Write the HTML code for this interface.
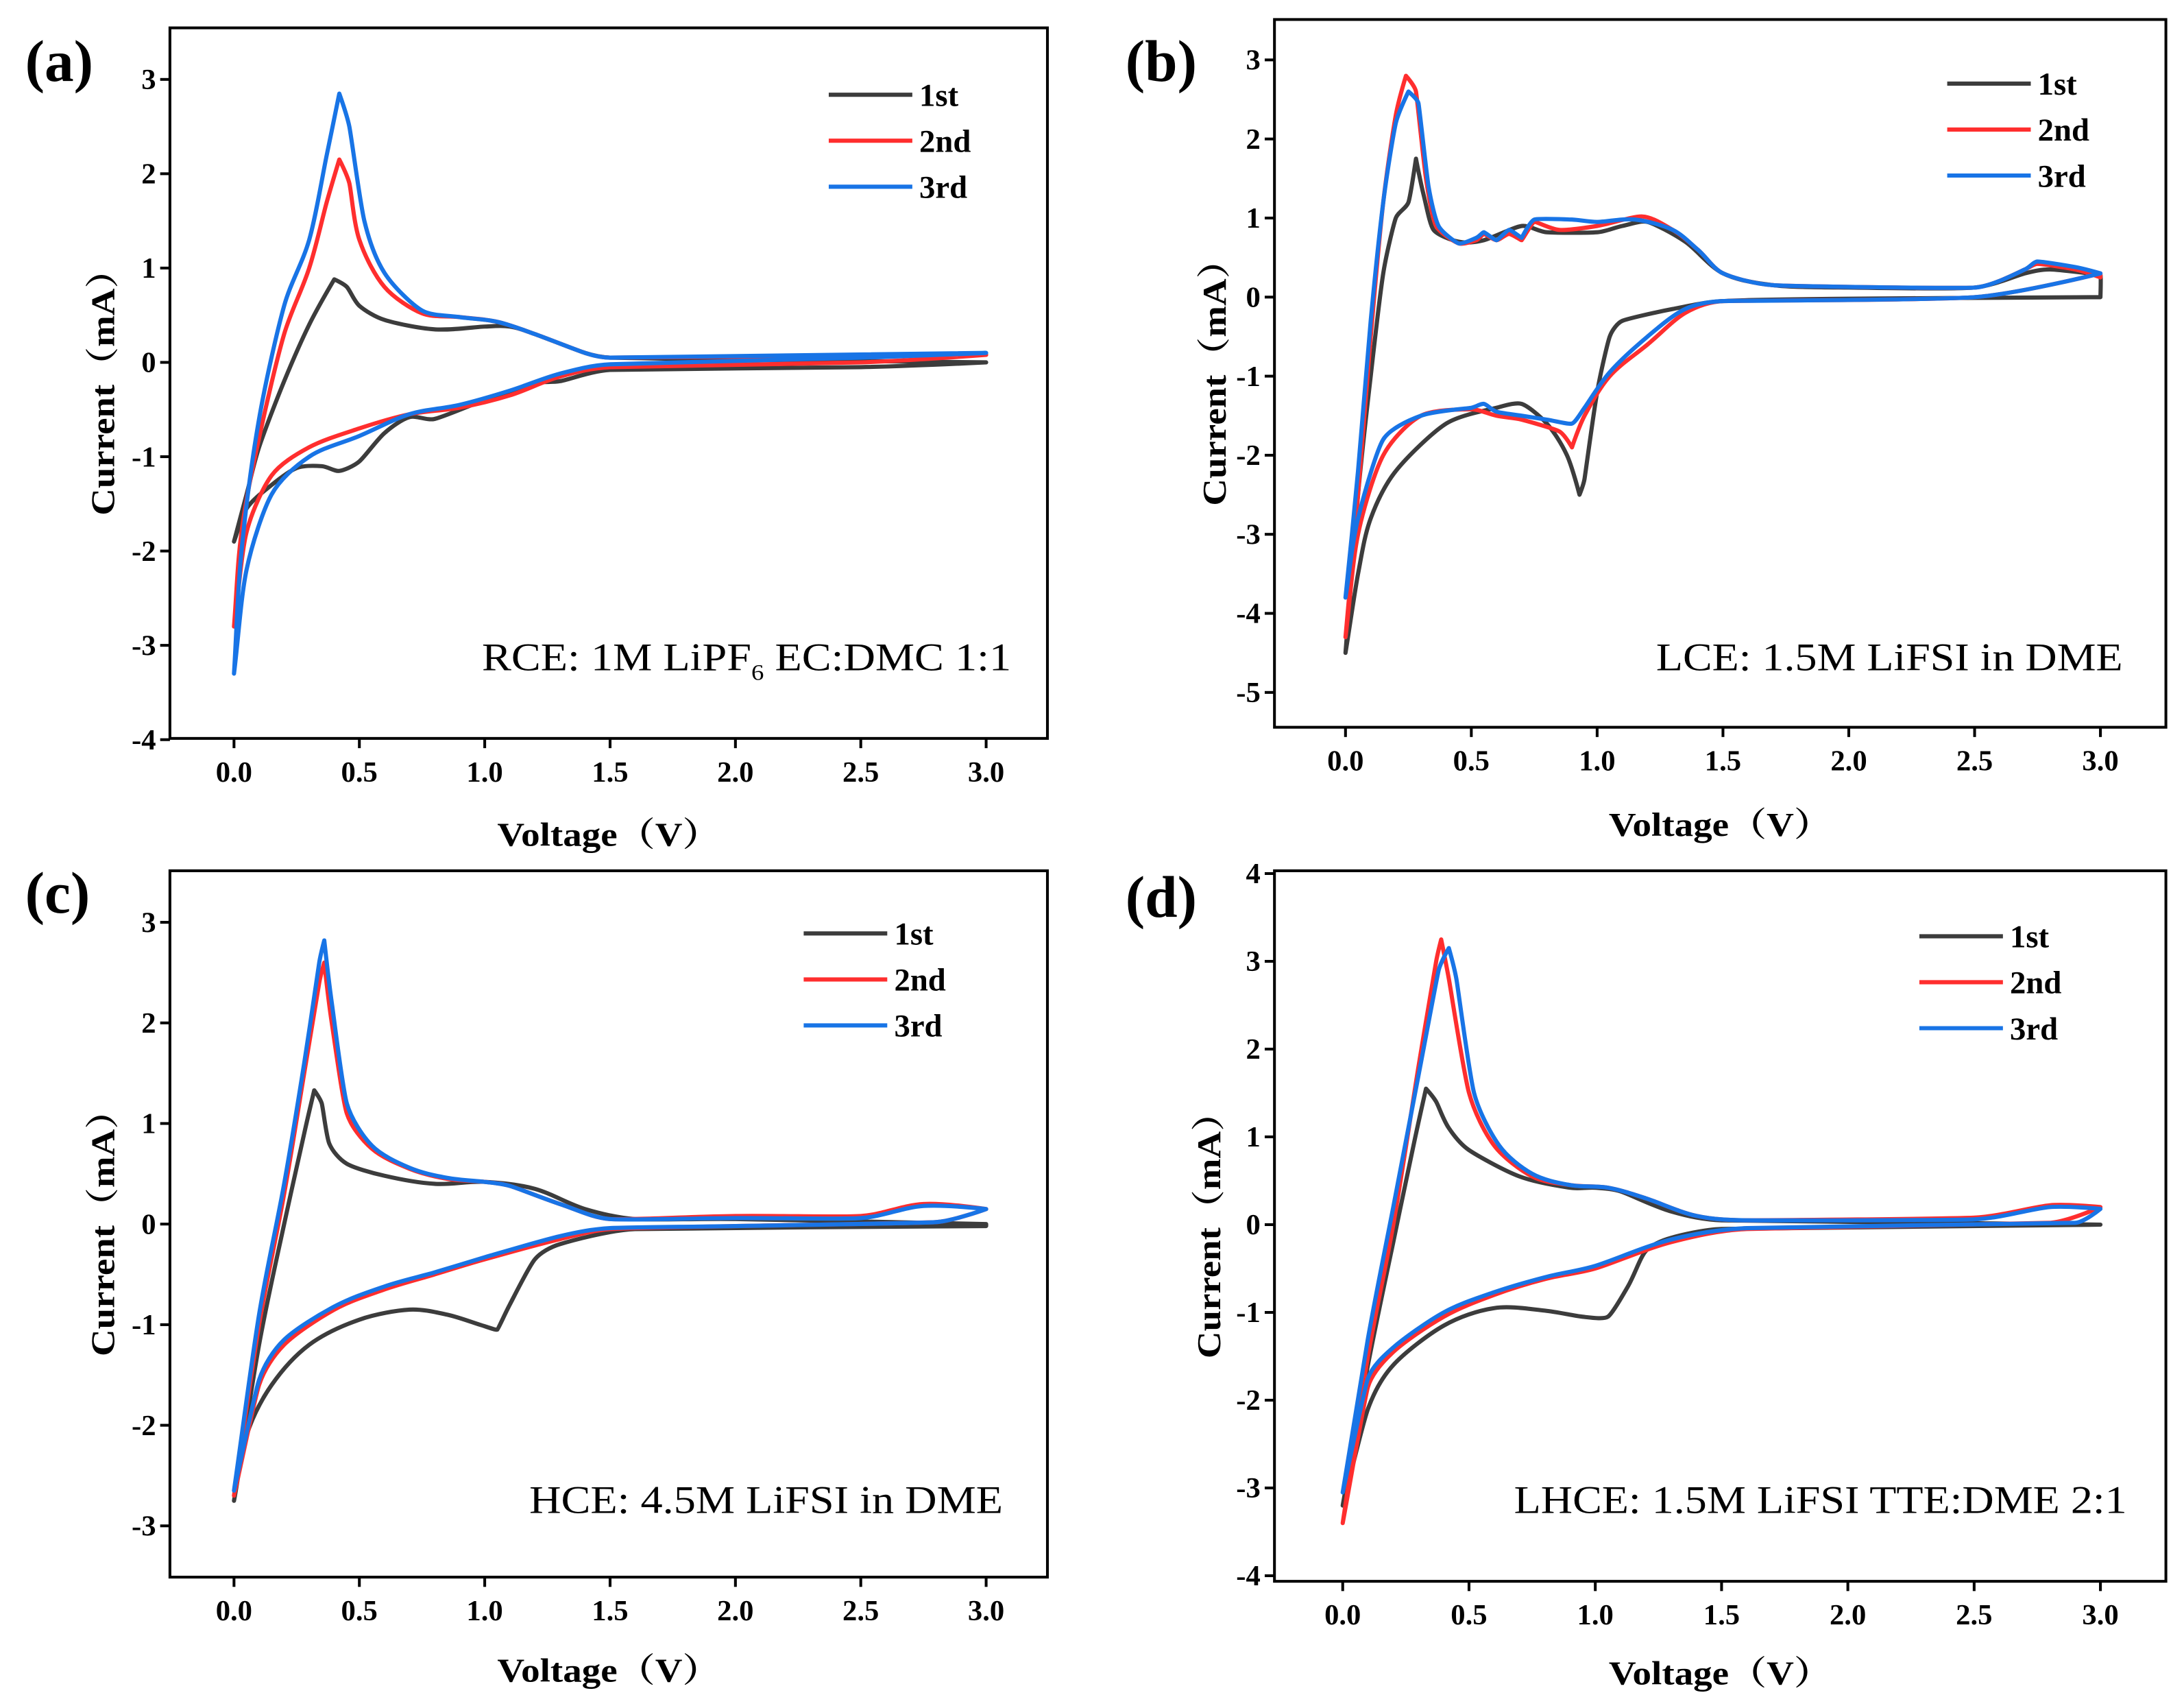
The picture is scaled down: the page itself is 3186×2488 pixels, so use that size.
<!DOCTYPE html>
<html><head><meta charset="utf-8">
<style>
html,body{margin:0;padding:0;background:#fff;}
svg{display:block;}
text{font-family:"Liberation Serif","Noto Serif CJK SC",serif;}
</style></head>
<body>
<svg id="fig" width="3186" height="2488" viewBox="0 0 1568 1224.5" preserveAspectRatio="none" xmlns="http://www.w3.org/2000/svg"></svg>
<script>
// ---- data ----
const xTicks = [0.0,0.5,1.0,1.5,2.0,2.5,3.0];
const cycleNames = ["1st","2nd","3rd"];
const yTicksA = [3,2,1,0,-1,-2,-3,-4];
const yTicksB = [3,2,1,0,-1,-2,-3,-4,-5];
const yTicksC = [3,2,1,0,-1,-2,-3];
const yTicksD = [4,3,2,1,0,-1,-2,-3,-4];

const a1 = [[0,-1.9],[0.05,-1.4],[0.1,-0.9],[0.2,-0.2],[0.3,0.4],[0.4,0.88],[0.45,0.8],[0.5,0.6],[0.6,0.45],[0.8,0.35],[1.0,0.38],[1.1,0.38],[1.2,0.3],[1.4,0.1],[1.5,0.05],[2.0,0.03],[3.0,0.0],[2.5,-0.05],[1.5,-0.08],[1.3,-0.2],[1.2,-0.22],[1.0,-0.4],[0.8,-0.6],[0.7,-0.58],[0.6,-0.75],[0.5,-1.05],[0.42,-1.15],[0.35,-1.1],[0.25,-1.12],[0.15,-1.3],[0.05,-1.55],[0,-1.9]];
const a2 = [[0,-2.8],[0.03,-1.8],[0.1,-0.8],[0.2,0.3],[0.3,1.0],[0.37,1.7],[0.42,2.15],[0.46,1.9],[0.5,1.3],[0.6,0.8],[0.75,0.52],[0.9,0.48],[1.05,0.43],[1.2,0.3],[1.4,0.1],[1.5,0.05],[3.0,0.08],[2.5,0.0],[1.5,-0.05],[1.3,-0.15],[1.1,-0.35],[0.9,-0.48],[0.7,-0.55],[0.5,-0.7],[0.3,-0.9],[0.15,-1.2],[0.05,-1.8],[0,-2.8]];
const a3 = [[0,-3.3],[0.03,-2.0],[0.1,-0.6],[0.2,0.6],[0.3,1.3],[0.37,2.2],[0.42,2.85],[0.46,2.5],[0.52,1.5],[0.6,0.95],[0.75,0.55],[0.9,0.48],[1.05,0.43],[1.2,0.3],[1.4,0.1],[1.5,0.05],[3.0,0.1],[2.5,0.05],[1.5,-0.02],[1.3,-0.12],[1.1,-0.3],[0.9,-0.45],[0.7,-0.55],[0.5,-0.78],[0.3,-1.0],[0.15,-1.4],[0.05,-2.2],[0,-3.3]];

const b1 = [[0,-4.5],[0.05,-2.5],[0.1,-1.0],[0.15,0.3],[0.2,1.0],[0.25,1.2],[0.28,1.75],[0.31,1.3],[0.35,0.85],[0.45,0.7],[0.55,0.72],[0.7,0.9],[0.8,0.82],[1.0,0.82],[1.1,0.9],[1.2,0.95],[1.35,0.7],[1.5,0.3],[1.7,0.15],[2.0,0.12],[2.5,0.12],[2.7,0.3],[2.8,0.35],[3.0,0.28],[3.0,0.0],[2.0,-0.02],[1.5,-0.05],[1.3,-0.15],[1.1,-0.3],[1.05,-0.5],[1.0,-1.2],[0.95,-2.3],[0.93,-2.5],[0.88,-2.0],[0.8,-1.6],[0.7,-1.35],[0.6,-1.4],[0.4,-1.6],[0.2,-2.2],[0.1,-2.8],[0.05,-3.5],[0,-4.5]];
const b2 = [[0,-4.3],[0.05,-2.5],[0.1,-0.5],[0.15,1.2],[0.2,2.3],[0.24,2.8],[0.28,2.6],[0.32,1.5],[0.36,0.9],[0.45,0.68],[0.52,0.72],[0.55,0.8],[0.6,0.72],[0.65,0.8],[0.7,0.72],[0.75,0.95],[0.85,0.85],[1.0,0.9],[1.18,1.02],[1.3,0.85],[1.4,0.6],[1.5,0.3],[1.7,0.15],[2.5,0.12],[2.7,0.35],[2.75,0.42],[2.9,0.35],[3.0,0.25],[3.0,0.3],[2.5,0.0],[1.5,-0.05],[1.35,-0.2],[1.2,-0.6],[1.05,-1.0],[0.95,-1.5],[0.9,-1.9],[0.85,-1.7],[0.7,-1.55],[0.6,-1.5],[0.5,-1.42],[0.3,-1.5],[0.15,-2.0],[0.05,-3.0],[0,-4.3]];
const b3 = [[0,-3.8],[0.05,-2.2],[0.1,-0.3],[0.15,1.2],[0.2,2.2],[0.25,2.6],[0.29,2.45],[0.33,1.4],[0.37,0.9],[0.45,0.68],[0.52,0.75],[0.55,0.82],[0.6,0.72],[0.65,0.85],[0.7,0.75],[0.75,0.98],[0.9,0.98],[1.0,0.95],[1.15,0.98],[1.3,0.85],[1.4,0.6],[1.5,0.3],[1.7,0.15],[2.5,0.12],[2.7,0.35],[2.75,0.45],[2.9,0.38],[3.0,0.3],[2.5,0.0],[1.5,-0.05],[1.35,-0.15],[1.2,-0.5],[1.05,-0.95],[0.95,-1.4],[0.9,-1.6],[0.8,-1.55],[0.7,-1.5],[0.6,-1.45],[0.55,-1.35],[0.5,-1.4],[0.3,-1.5],[0.15,-1.8],[0.05,-2.8],[0,-3.8]];

const c1 = [[0,-2.75],[0.1,-1.2],[0.2,0.0],[0.28,0.9],[0.32,1.33],[0.35,1.2],[0.38,0.8],[0.45,0.6],[0.6,0.48],[0.8,0.4],[1.0,0.42],[1.2,0.35],[1.4,0.15],[1.6,0.05],[2.0,0.05],[3.0,0.0],[3.0,-0.02],[1.6,-0.05],[1.3,-0.2],[1.2,-0.35],[1.1,-0.8],[1.05,-1.05],[0.98,-1.0],[0.85,-0.9],[0.7,-0.85],[0.5,-0.95],[0.3,-1.2],[0.15,-1.6],[0.05,-2.1],[0,-2.75]];
const c2 = [[0,-2.7],[0.1,-1.0],[0.2,0.3],[0.28,1.5],[0.34,2.4],[0.36,2.6],[0.39,2.0],[0.45,1.1],[0.55,0.75],[0.7,0.55],[0.85,0.45],[1.0,0.42],[1.1,0.38],[1.3,0.2],[1.5,0.05],[2.0,0.08],[2.5,0.08],[2.75,0.2],[3.0,0.15],[2.8,0.02],[2.0,-0.02],[1.5,-0.05],[1.3,-0.15],[1.0,-0.35],[0.8,-0.5],[0.6,-0.65],[0.4,-0.85],[0.2,-1.2],[0.1,-1.6],[0,-2.7]];
const c3 = [[0,-2.65],[0.1,-0.9],[0.2,0.4],[0.28,1.6],[0.34,2.6],[0.36,2.82],[0.39,2.2],[0.45,1.2],[0.55,0.78],[0.7,0.56],[0.85,0.46],[1.0,0.42],[1.1,0.38],[1.3,0.2],[1.5,0.05],[2.0,0.06],[2.5,0.06],[2.75,0.18],[3.0,0.15],[2.8,0.02],[2.0,-0.02],[1.5,-0.04],[1.3,-0.12],[1.0,-0.33],[0.8,-0.48],[0.6,-0.62],[0.4,-0.82],[0.2,-1.15],[0.1,-1.55],[0,-2.65]];

const d1 = [[0,-3.2],[0.1,-1.6],[0.2,-0.2],[0.28,0.9],[0.33,1.55],[0.37,1.4],[0.42,1.1],[0.5,0.85],[0.7,0.55],[0.9,0.42],[1.0,0.42],[1.1,0.38],[1.3,0.15],[1.5,0.05],[3.0,0.0],[1.5,-0.05],[1.3,-0.15],[1.2,-0.3],[1.13,-0.7],[1.05,-1.05],[0.95,-1.05],[0.8,-0.98],[0.6,-0.95],[0.4,-1.15],[0.2,-1.6],[0.1,-2.1],[0,-3.2]];
const d2 = [[0,-3.4],[0.1,-1.5],[0.2,0.0],[0.3,1.8],[0.37,3.0],[0.39,3.25],[0.42,2.8],[0.5,1.5],[0.6,0.9],[0.75,0.55],[0.9,0.45],[1.05,0.42],[1.2,0.3],[1.4,0.1],[1.6,0.05],[2.5,0.08],[2.8,0.22],[3.0,0.2],[2.8,0.02],[1.6,-0.05],[1.3,-0.2],[1.0,-0.5],[0.8,-0.62],[0.6,-0.8],[0.4,-1.05],[0.2,-1.45],[0.1,-1.85],[0,-3.4]];
const d3 = [[0,-3.05],[0.1,-1.3],[0.2,0.2],[0.3,1.7],[0.38,2.9],[0.42,3.15],[0.45,2.8],[0.52,1.5],[0.62,0.9],[0.75,0.58],[0.9,0.45],[1.05,0.42],[1.2,0.3],[1.4,0.1],[1.6,0.05],[2.5,0.06],[2.8,0.2],[3.0,0.18],[2.9,0.02],[1.6,-0.04],[1.3,-0.17],[1.0,-0.47],[0.8,-0.6],[0.6,-0.77],[0.4,-1.0],[0.2,-1.4],[0.1,-1.75],[0,-3.05]];

// ---- layout ----
const NS="http://www.w3.org/2000/svg";
const svg=document.getElementById('fig');
const colors=["#3c3c3c","#ff2e2e","#1874e6"];
function mk(tag,attrs,parent){const e=document.createElementNS(NS,tag);for(const k in attrs)e.setAttribute(k,attrs[k]);(parent||svg).appendChild(e);return e;}
function smooth(pts){
 const n=pts.length;
 const dist=(a,b)=>Math.hypot(b[0]-a[0],b[1]-a[1]);
 const tan=i=>{
  const p0=pts[Math.max(i-1,0)],p2=pts[Math.min(i+1,n-1)];
  const dx=p2[0]-p0[0],dy=p2[1]-p0[1],L=Math.hypot(dx,dy)||1;
  const a=i>0?dist(pts[i-1],pts[i]):Infinity, b=i<n-1?dist(pts[i],pts[i+1]):Infinity;
  const m=Math.min(a,b);
  // reduce tangent at sharp turns
  let cos=1;
  if(i>0&&i<n-1&&a>0&&b>0){
   const u=[pts[i][0]-pts[i-1][0],pts[i][1]-pts[i-1][1]],v=[pts[i+1][0]-pts[i][0],pts[i+1][1]-pts[i][1]];
   cos=(u[0]*v[0]+u[1]*v[1])/(a*b);
  }
  const k=(isFinite(m)?m:0)*0.35*Math.max(0,cos);
  return [dx/L*k,dy/L*k];
 };
 let d='M'+pts[0][0].toFixed(1)+' '+pts[0][1].toFixed(1);
 for(let i=0;i<n-1;i++){
  const t1=tan(i),t2=tan(i+1),p1=pts[i],p2=pts[i+1];
  d+=' C'+(p1[0]+t1[0]).toFixed(1)+' '+(p1[1]+t1[1]).toFixed(1)+' '+(p2[0]-t2[0]).toFixed(1)+' '+(p2[1]-t2[1]).toFixed(1)+' '+p2[0].toFixed(1)+' '+p2[1].toFixed(1);
 }
 return d;
}

const panels=[
 {id:'a',L:122,R:752,T:20,B:530,x0:168,x1:708,yTop:3,yTopPx:57,unit:67.7,yt:yTicksA,series:[a1,a2,a3],lx:595,ly:68,note:'RCE: 1M LiPF<tspan font-size="16" dy="7">6</tspan><tspan dy="-7"> EC:DMC 1:1</tspan>',nx:726,ny:481,nw:380,letterX:18,letterY:58,ylabX:74,xlabY:607},
 {id:'b',L:915,R:1555,T:14,B:522,x0:966,x1:1508,yTop:3,yTopPx:43,unit:56.75,yt:yTicksB,series:[b1,b2,b3],lx:1398,ly:60,note:'LCE: 1.5M LiFSI in DME',nx:1524,ny:481,nw:335,letterX:808,letterY:58,ylabX:872,xlabY:600},
 {id:'c',L:122,R:752,T:625,B:1132,x0:168,x1:708,yTop:3,yTopPx:662,unit:72.2,yt:yTicksC,series:[c1,c2,c3],lx:577,ly:670,note:'HCE: 4.5M LiFSI in DME',nx:720,ny:1086,nw:340,letterX:18,letterY:655,ylabX:74,xlabY:1207},
 {id:'d',L:915,R:1555,T:625,B:1135,x0:964,x1:1508,yTop:4,yTopPx:627,unit:63.0,yt:yTicksD,series:[d1,d2,d3],lx:1378,ly:672,note:'LHCE: 1.5M LiFSI TTE:DME 2:1',nx:1527,ny:1086,nw:440,letterX:808,letterY:658,ylabX:868,xlabY:1209}
];

panels.forEach(p=>{
 const g=mk('g',{});
 
 
 const sx=v=>p.x0+(p.x1-p.x0)*v/3;
 const sy=v=>p.yTopPx+(p.yTop-v)*p.unit;
 const lt=mk('text',{x:p.letterX,y:p.letterY,'font-size':42,'font-weight':'bold',fill:'#000'},g);
 lt.textContent='('+p.id+')';
 
 
 p.series.forEach((s,i)=>{
  const pix=s.map(pt=>[sx(pt[0]),sy(pt[1])]);
  const path=mk('path',{d:smooth(pix),fill:'none',stroke:colors[i],'stroke-width':3,'stroke-linejoin':'round','stroke-linecap':'round'},g);
  
  
 });
 const fr=mk('rect',{x:p.L,y:p.T,width:p.R-p.L,height:p.B-p.T,fill:'none',stroke:'#000','stroke-width':2},g);
 
 
 xTicks.forEach(v=>{
  const x=sx(v);
  mk('line',{x1:x,x2:x,y1:p.B,y2:p.B+7,stroke:'#000','stroke-width':2},g);
  const t=mk('text',{x:x,y:p.B+31,'font-size':21,'font-weight':'bold','text-anchor':'middle'},g);
  t.textContent=v.toFixed(1);
  
  
 });
 p.yt.forEach(v=>{
  const y=sy(v);
  mk('line',{x1:p.L-7,x2:p.L,y1:y,y2:y,stroke:'#000','stroke-width':2},g);
  const t=mk('text',{x:p.L-10,y:y+7,'font-size':21,'font-weight':'bold','text-anchor':'end'},g);
  t.textContent=String(v);
  
  
 });
 const xc=(p.L+p.R)/2;
 const xl=mk('text',{x:xc-80,y:p.xlabY,'font-size':24,'font-weight':'bold',textLength:160,lengthAdjust:'spacingAndGlyphs'},g);
 xl.textContent='Voltage（V）';
 
 
 const cy=(p.T+p.B)/2;
 const yl=mk('text',{x:p.ylabX-95,y:cy+8,'font-size':24,'font-weight':'bold',textLength:190,lengthAdjust:'spacingAndGlyphs',transform:'rotate(-90 '+p.ylabX+' '+cy+')'},g);
 yl.textContent='Current（mA）';
 
 
 cycleNames.forEach((n,i)=>{
  const y=p.ly+i*33;
  const ln=mk('line',{x1:p.lx,x2:p.lx+60,y1:y,y2:y,stroke:colors[i],'stroke-width':3},g);
  
  
  const t=mk('text',{x:p.lx+65,y:y+8,'font-size':23,'font-weight':'bold'},g);
  t.textContent=n;
  
  
 });
 const nt=mk('text',{x:p.nx-p.nw,y:p.ny,'font-size':28,textLength:p.nw,lengthAdjust:'spacingAndGlyphs'},g);
 nt.innerHTML=p.note;
 
 
});
</script>
</body></html>
